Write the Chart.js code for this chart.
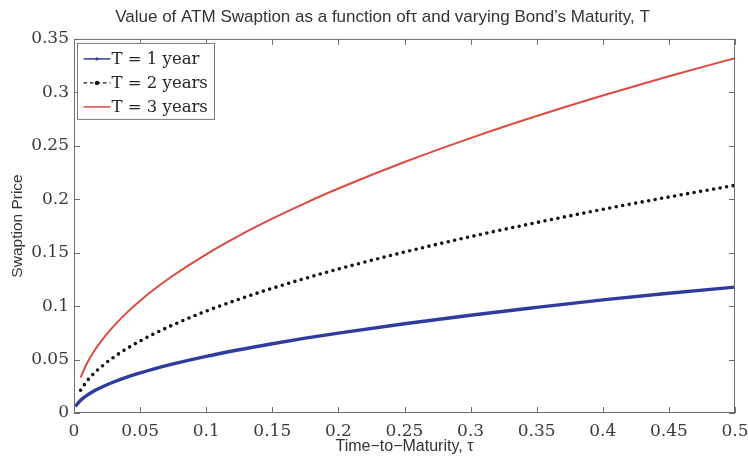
<!DOCTYPE html>
<html>
<head>
<meta charset="utf-8">
<script src="https://cdn.jsdelivr.net/npm/chart.js@4.4.1/dist/chart.umd.min.js"></script>
<style>
  html, body { margin: 0; padding: 0; background: #fff; }
  #wrap { position: relative; width: 748px; height: 458px; }
</style>
</head>
<body>
<div id="wrap"><canvas id="c"></canvas></div>
<script>
// Time-to-maturity grid (years)
const tau = [0.001, 0.005, 0.01, 0.015, 0.02, 0.03, 0.04, 0.05, 0.06, 0.075, 0.1,
             0.125, 0.15, 0.175, 0.2, 0.25, 0.3, 0.35, 0.4, 0.45, 0.5];

// ATM swaption prices for each bond maturity T
const priceT1 = [0.0062, 0.0119, 0.0168, 0.0205, 0.0237, 0.0290, 0.0335, 0.0375, 0.0411, 0.0459, 0.0530,
                 0.0592, 0.0648, 0.0700, 0.0747, 0.0835, 0.0915, 0.0988, 0.1058, 0.1120, 0.1178];
const priceT2 = [null, 0.0213, 0.0302, 0.0369, 0.0426, 0.0522, 0.0603, 0.0674, 0.0738, 0.0825, 0.0953,
                 0.1065, 0.1167, 0.1260, 0.1347, 0.1506, 0.1650, 0.1782, 0.1905, 0.2021, 0.2130];
const priceT3 = [null, 0.0332, 0.0470, 0.0575, 0.0664, 0.0813, 0.0939, 0.1050, 0.1150, 0.1286, 0.1485,
                 0.1660, 0.1818, 0.1964, 0.2100, 0.2348, 0.2572, 0.2778, 0.2970, 0.3150, 0.3320];

const seriesNames = ['T = 1 year', 'T = 2 years', 'T = 3 years'];
const xTickLabels = ['0', '0.05', '0.1', '0.15', '0.2', '0.25', '0.3', '0.35', '0.4', '0.45', '0.5'];
const yTickLabels = ['0', '0.05', '0.1', '0.15', '0.2', '0.25', '0.3', '0.35'];

const toPoints = arr => tau.map((t, i) => ({ x: t, y: arr[i] })).filter(p => p.y !== null);

const serif = '"DejaVu Serif", "Liberation Serif", serif';
const sans = '"Liberation Sans", Arial, sans-serif';

// Box around the axes with inward tick marks on all four sides
const axesFrame = {
  id: 'axesFrame',
  afterDatasetsDraw(chart) {
    const { ctx, chartArea: a, scales: { x, y } } = chart;
    ctx.save();
    ctx.strokeStyle = '#6e6e6e';
    ctx.lineWidth = 1;
    ctx.strokeRect(a.left + 0.5, a.top + 0.5, a.right - a.left - 1, a.bottom - a.top - 1);
    ctx.beginPath();
    const len = 6;
    x.ticks.forEach(t => {
      const px = Math.round(x.getPixelForValue(t.value)) + 0.5;
      ctx.moveTo(px, a.bottom); ctx.lineTo(px, a.bottom - len);
      ctx.moveTo(px, a.top); ctx.lineTo(px, a.top + len);
    });
    y.ticks.forEach(t => {
      const py = Math.round(y.getPixelForValue(t.value)) + 0.5;
      ctx.moveTo(a.left, py); ctx.lineTo(a.left + len, py);
      ctx.moveTo(a.right, py); ctx.lineTo(a.right - len, py);
    });
    ctx.stroke();
    ctx.restore();
  },
  // Boxed legend in the upper-left corner of the axes
  afterDraw(chart) {
    const { ctx, chartArea: a } = chart;
    const bx = a.left + 3.5, by = a.top + 4.5, bw = 137, bh = 76;
    ctx.save();
    ctx.fillStyle = '#fff';
    ctx.fillRect(bx, by, bw, bh);
    ctx.strokeStyle = '#7a7a7a';
    ctx.lineWidth = 1;
    ctx.strokeRect(bx, by, bw, bh);
    chart.data.datasets.forEach((ds, i) => {
      const cy = by + 15.5 + i * 24;
      const x1 = bx + 6, x2 = bx + 33, xm = (x1 + x2) / 2;
      ctx.strokeStyle = ds.borderColor;
      ctx.fillStyle = ds.borderColor;
      ctx.lineCap = 'butt';
      if (ds.legendStyle === 'dotted') {
        ctx.lineWidth = 1.3;
        ctx.setLineDash([3.5, 3]);
        ctx.beginPath(); ctx.moveTo(x1, cy); ctx.lineTo(x2, cy); ctx.stroke();
        ctx.setLineDash([]);
        ctx.beginPath(); ctx.arc(xm, cy, 2.2, 0, Math.PI * 2); ctx.fill();
      } else {
        ctx.lineWidth = 1.5;
        ctx.beginPath(); ctx.moveTo(x1, cy); ctx.lineTo(x2, cy); ctx.stroke();
        if (ds.legendStyle === 'marker') {
          ctx.beginPath(); ctx.arc(xm, cy, 1.6, 0, Math.PI * 2); ctx.fill();
        }
      }
      ctx.fillStyle = '#262626';
      ctx.font = '16.5px ' + serif;
      ctx.textBaseline = 'middle';
      ctx.textAlign = 'left';
      ctx.fillText(ds.label, x2 + 1, cy + 1);
    });
    ctx.restore();
  }
};

new Chart(document.getElementById('c'), {
  type: 'line',
  data: {
    datasets: [
      {
        label: seriesNames[0],
        data: toPoints(priceT1),
        borderColor: '#2f3c9e',
        borderWidth: 3.4,
        pointRadius: 0,
        cubicInterpolationMode: 'monotone',
        legendStyle: 'marker'
      },
      {
        label: seriesNames[1],
        data: toPoints(priceT2),
        borderColor: '#111111',
        borderWidth: 3.6,
        borderDash: [0, 6.6],
        borderCapStyle: 'round',
        pointRadius: 0,
        cubicInterpolationMode: 'monotone',
        legendStyle: 'dotted'
      },
      {
        label: seriesNames[2],
        data: toPoints(priceT3),
        borderColor: '#dd4a3f',
        borderWidth: 2,
        pointRadius: 0,
        cubicInterpolationMode: 'monotone',
        legendStyle: 'solid'
      }
    ]
  },
  options: {
    responsive: true,
    maintainAspectRatio: false,
    animation: false,
    devicePixelRatio: 1,
    layout: { padding: { left: 17, right: 0, top: 0, bottom: 0 } },
    plugins: {
      legend: { display: false },
      tooltip: { enabled: false },
      title: {
        display: true,
        text: 'Value of ATM Swaption as a function of\u03c4 and varying Bond\u2019s Maturity, T',
        color: '#333',
        font: { family: sans, size: 17, weight: 'normal', lineHeight: 1.2 },
        padding: { top: 7.5, bottom: 11 }
      }
    },
    scales: {
      x: {
        type: 'linear',
        min: 0,
        max: 0.5,
        grid: { display: false, drawTicks: false },
        border: { display: false },
        ticks: {
          stepSize: 0.05,
          maxRotation: 0,
          autoSkip: false,
          padding: 10,
          color: '#3a3a3a',
          font: { family: serif, size: 17, lineHeight: 1 },
          callback: (v, i) => xTickLabels[i]
        },
        title: {
          display: true,
          text: 'Time\u2212to\u2212Maturity, \u03c4',
          color: '#333',
          font: { family: sans, size: 16, lineHeight: 1.2 },
          padding: { top: 0, bottom: 2 }
        },
        afterFit(scale) { scale.height = 45; scale.paddingLeft = 0; scale.paddingRight = 13; }
      },
      y: {
        min: 0,
        max: 0.35,
        grid: { display: false, drawTicks: false },
        border: { display: false },
        ticks: {
          stepSize: 0.05,
          padding: 5,
          color: '#3a3a3a',
          font: { family: serif, size: 17, lineHeight: 1 },
          callback: (v, i) => yTickLabels[i]
        },
        title: {
          display: true,
          text: 'Swaption Price',
          color: '#333',
          font: { family: sans, size: 15.5, lineHeight: 1.2 },
          padding: { top: -8.5, bottom: 0 }
        },
        afterFit(scale) { scale.width = 57; scale.paddingTop = 0; scale.paddingBottom = 0; }
      }
    }
  },
  plugins: [axesFrame]
});
</script>
</body>
</html>
